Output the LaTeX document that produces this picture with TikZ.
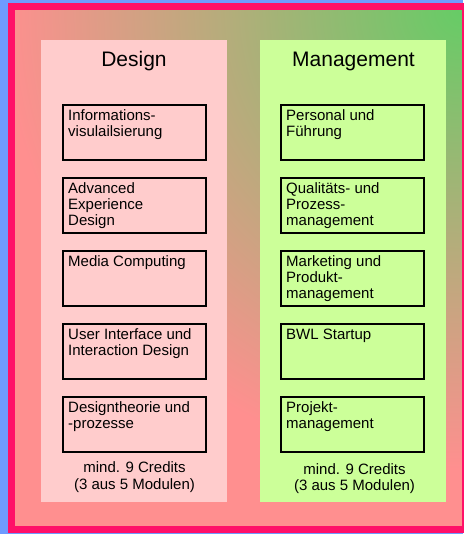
\documentclass[tikz,border=0pt]{standalone}
\usepackage{fontspec}
\setmainfont{Liberation Sans}
\definecolor{bgblue}{RGB}{111,155,255}
\definecolor{framepink}{RGB}{255,16,104}
\definecolor{grn}{RGB}{102,204,102}
\definecolor{pnk}{RGB}{255,143,143}
\definecolor{dpink}{RGB}{255,204,204}
\definecolor{mgreen}{RGB}{204,255,153}
\pgfdeclareradialshading{bgshade}{\pgfpointorigin}{color(0bp)=(grn); color(16.4bp)=(pnk); color(50bp)=(pnk)}
\begin{document}
\begin{tikzpicture}[x=1pt,y=-1pt,
  column/.style={inner sep=0pt, minimum width=186pt, minimum height=462pt, anchor=north west},
  module/.style={draw=black, line width=2pt, inner sep=0pt, minimum width=143pt, minimum height=55pt, anchor=north west},
  modtext/.style={anchor=north west, align=left, inner sep=0pt, font=\fontsize{15}{16}\selectfont},
  heading/.style={anchor=base, inner sep=0pt, font=\fontsize{21}{25}\selectfont},
  credits/.style={anchor=north, align=center, inner sep=0pt, font=\fontsize{15}{16.5}\selectfont}]
\useasboundingbox (0,0) rectangle (463,534);
\fill[bgblue] (0,0) rectangle (463,534);
\begin{scope}
  \clip (15,10) rectangle (461.5,526);
  \shade[shading=bgshade] (461.5,10) circle (700pt);
\end{scope}
\draw[framepink, line width=7pt] (11.5,6.5) rectangle (465,529.5);
% columns
\node[column, fill=dpink] (design) at (41,40) {};
\node[column, fill=mgreen] (mgmt) at (260,40) {};
\node[heading] (dtitle) at (134,66.7) {Design};
\node[heading] (mtitle) at (353.5,66.7) {Management};
% design modules
\node[module] (d1) at (62,104) {};
\node[module] (d2) at (62,177) {};
\node[module] (d3) at (62,250) {};
\node[module] (d4) at (62,323) {};
\node[module] (d5) at (62,396) {};
\node[modtext] (d1t) at ([shift={(6,5.5)}]d1.north west) {Informations-\\visulailsierung};
\node[modtext] (d2t) at ([shift={(6,5.5)}]d2.north west) {Advanced\\Experience\\Design};
\node[modtext] (d3t) at ([shift={(6,5.5)}]d3.north west) {Media Computing};
\node[modtext] (d4t) at ([shift={(6,5.5)}]d4.north west) {User Interface und\\Interaction Design};
\node[modtext] (d5t) at ([shift={(6,5.5)}]d5.north west) {Designtheorie und\\-prozesse};
% management modules
\node[module] (m1) at (280,104) {};
\node[module] (m2) at (280,177) {};
\node[module] (m3) at (280,250) {};
\node[module] (m4) at (280,323) {};
\node[module] (m5) at (280,396) {};
\node[modtext] (m1t) at ([shift={(6,5.5)}]m1.north west) {Personal und\\Führung};
\node[modtext] (m2t) at ([shift={(6,5.5)}]m2.north west) {Qualitäts- und\\Prozess-\\management};
\node[modtext] (m3t) at ([shift={(6,5.5)}]m3.north west) {Marketing und\\Produkt-\\management};
\node[modtext] (m4t) at ([shift={(6,5.5)}]m4.north west) {BWL Startup};
\node[modtext] (m5t) at ([shift={(6,5.5)}]m5.north west) {Projekt-\\management};
% credits
\node[credits] (dcred) at (134.5,461.5) {mind. 9 Credits\\(3 aus 5 Modulen)};
\node[credits] (mcred) at (354.5,463) {mind. 9 Credits\\(3 aus 5 Modulen)};
\end{tikzpicture}
\end{document}
